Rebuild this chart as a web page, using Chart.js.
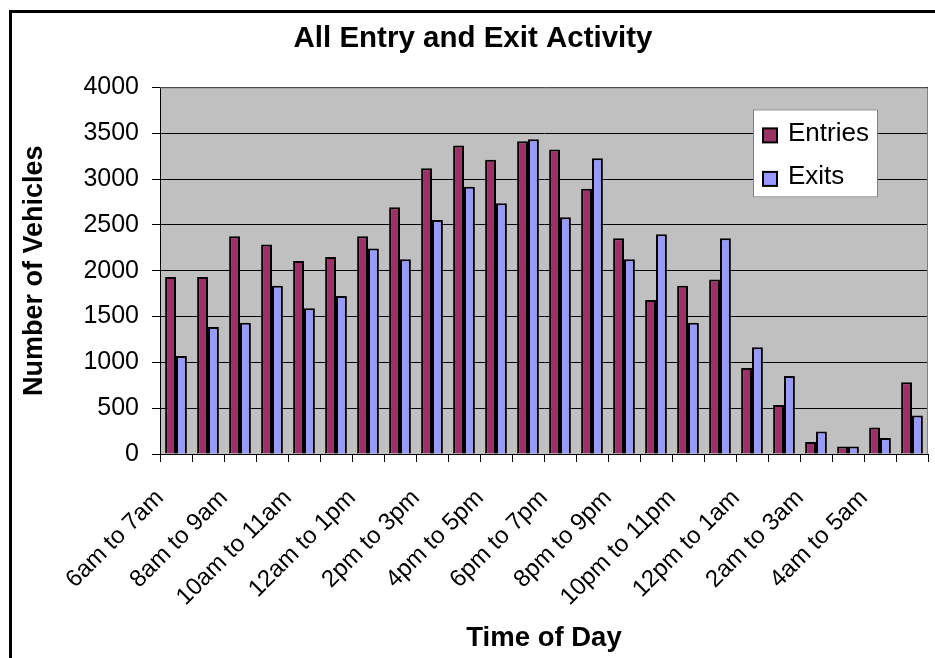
<!DOCTYPE html>
<html>
<head>
<meta charset="utf-8">
<title>All Entry and Exit Activity</title>
<script src="https://cdn.jsdelivr.net/npm/chart.js@4.4.1/dist/chart.umd.min.js"></script>
<style>
  html, body { margin: 0; padding: 0; background: #fff; overflow: hidden; }
  #wrap { position: relative; width: 935px; height: 658px; }
  #frame {
    position: absolute; left: 9px; top: 10px; width: 1000px; height: 1000px;
    border-left: 3px solid #000; border-top: 3px solid #000;
    box-sizing: border-box; pointer-events: none;
  }
  canvas { position: absolute; left: 0; top: 0; }
</style>
</head>
<body>
<div id="wrap">
  <div id="frame"></div>
  <canvas id="activityChart" width="935" height="658"></canvas>
</div>
<script>
  // hourly buckets, starting at 6am (labels kept as they were written)
  const timeSlots = [
    '6am to 7am', '7am to 8am', '8am to 9am', '9am to 10am',
    '10am to 11am', '11am to 12am', '12am to 1pm', '1pm to 2pm',
    '2pm to 3pm', '3pm to 4pm', '4pm to 5pm', '5pm to 6pm',
    '6pm to 7pm', '7pm to 8pm', '8pm to 9pm', '9pm to 10pm',
    '10pm to 11pm', '11pm to 12pm', '12pm to 1am', '1am to 2am',
    '2am to 3am', '3am to 4am', '4am to 5am', '5am to 6am'
  ];

  const entries = [1930, 1930, 2375, 2285, 2107, 2150, 2375, 2691, 3119, 3366, 3210, 3413,
                   3322, 2894, 2354, 1679, 1835, 1904, 939, 536, 131, 83, 290, 783];
  const exits   = [1070, 1385, 1432, 1835, 1589, 1723, 2242, 2125, 2553, 2916, 2735, 3435,
                   2582, 3228, 2125, 2397, 1432, 2354, 1164, 852, 246, 83, 174, 420];

  const yTicks = [0, 500, 1000, 1500, 2000, 2500, 3000, 3500, 4000];

  const FONT = "'Liberation Sans', Arial, sans-serif";

  // grey plot area like the old Excel charts
  const plotBackground = {
    id: 'plotBackground',
    beforeDraw(chart) {
      const { ctx, chartArea: a } = chart;
      ctx.save();
      ctx.fillStyle = '#c0c0c0';
      ctx.fillRect(a.left, a.top, a.right - a.left, a.bottom - a.top);
      ctx.restore();
    },
    beforeDatasetsDraw(chart) {
      const { ctx, chartArea: a } = chart;
      ctx.save();
      ctx.strokeStyle = '#808080';
      ctx.lineWidth = 1;
      ctx.beginPath();
      ctx.moveTo(a.left, a.top + 0.5);
      ctx.lineTo(a.right - 0.5, a.top + 0.5);
      ctx.lineTo(a.right - 0.5, a.bottom);
      ctx.stroke();
      ctx.restore();
    }
  };

  // boxed legend sitting inside the plot, top right
  const boxLegend = {
    id: 'boxLegend',
    afterDraw(chart) {
      const { ctx, chartArea: a } = chart;
      const left = a.right - 175, top = a.top + 22;
      ctx.save();
      ctx.fillStyle = '#fff';
      ctx.fillRect(left, top, 125, 88);
      ctx.strokeStyle = '#808080';
      ctx.lineWidth = 1;
      ctx.strokeRect(left + 0.5, top + 0.5, 124, 87);
      ctx.font = '26px ' + FONT;
      ctx.textBaseline = 'alphabetic';
      chart.data.datasets.forEach((ds, i) => {
        const cy = top + 26 + i * 43.5;
        ctx.fillStyle = ds.backgroundColor;
        ctx.fillRect(left + 10, cy - 7, 14, 14);
        ctx.strokeStyle = '#000';
        ctx.lineWidth = 2;
        ctx.strokeRect(left + 10, cy - 7, 14, 14);
        ctx.fillStyle = '#000';
        ctx.fillText(ds.label, left + 35, cy + 5.5);
      });
      ctx.restore();
    }
  };

  new Chart(document.getElementById('activityChart'), {
    type: 'bar',
    data: {
      labels: timeSlots,
      datasets: [
        { label: 'Entries', data: entries, backgroundColor: '#993366', borderColor: '#000', borderWidth: 2 },
        { label: 'Exits', data: exits, backgroundColor: '#9999ff', borderColor: '#000', borderWidth: 2 }
      ]
    },
    options: {
      responsive: false,
      animation: false,
      devicePixelRatio: 1,
      datasets: { bar: { categoryPercentage: 0.68, barPercentage: 1.0 } },
      layout: { padding: { left: 18, right: 7, top: 0, bottom: 0 } },
      scales: {
        x: {
          afterFit(scale) {
            scale.height = 204;
            scale.paddingLeft = 0;
            scale.paddingRight = 0;
          },
          grid: { display: true, drawOnChartArea: false, drawTicks: true, tickLength: 8, color: '#000', offset: true },
          border: { display: true, color: '#000' },
          ticks: {
            autoSkip: false,
            minRotation: 45,
            maxRotation: 45,
            padding: 22,
            labelOffset: -16,
            color: '#000',
            font: { family: FONT, size: 24 },
            callback: (value, index) => index % 2 === 0 ? timeSlots[index] : ''
          },
          title: {
            display: true,
            text: 'Time of Day',
            color: '#000',
            font: { family: FONT, size: 27.5, weight: 'bold' },
            padding: { top: 0, bottom: 3 }
          }
        },
        y: {
          min: 0,
          max: 4000,
          afterFit(scale) { scale.width = 142; },
          afterBuildTicks(scale) { scale.ticks = yTicks.map(v => ({ value: v })); },
          grid: { color: '#000', lineWidth: 1, tickLength: 8, drawTicks: true },
          border: { display: true, color: '#000' },
          ticks: {
            padding: 13,
            color: '#000',
            font: { family: FONT, size: 25 },
            callback: (v) => String(v)
          },
          title: {
            display: true,
            text: 'Number of Vehicles',
            color: '#000',
            font: { family: FONT, size: 27, weight: 'bold' },
            padding: { top: 0, bottom: 0 }
          }
        }
      },
      plugins: {
        legend: { display: false },
        tooltip: { enabled: false },
        title: {
          display: true,
          text: 'All Entry and Exit Activity',
          color: '#000',
          font: { family: FONT, size: 29.5, weight: 'bold' },
          padding: { top: 21, bottom: 31 }
        }
      }
    },
    plugins: [plotBackground, boxLegend]
  });
</script>
</body>
</html>
